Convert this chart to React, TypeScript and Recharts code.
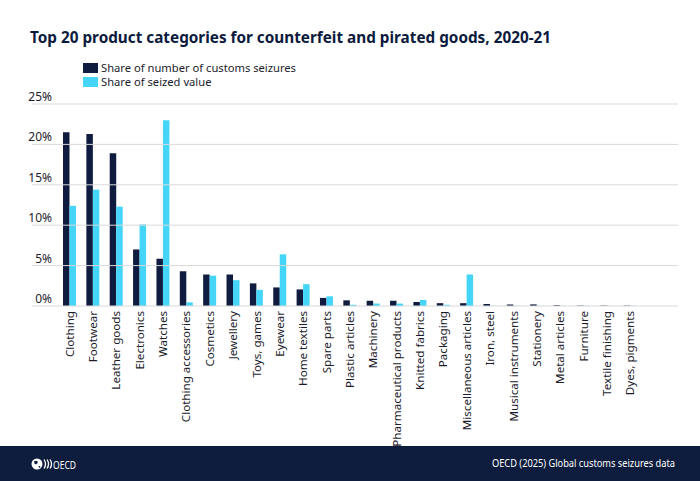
import React from "react";
import { BarChart, Bar, XAxis, YAxis } from "recharts";

const CATEGORIES = [
  "Clothing", "Footwear", "Leather goods", "Electronics", "Watches",
  "Clothing accessories", "Cosmetics", "Jewellery", "Toys, games", "Eyewear",
  "Home textiles", "Spare parts", "Plastic articles", "Machinery", "Pharmaceutical products",
  "Knitted fabrics", "Packaging", "Miscellaneous articles", "Iron, steel", "Musical instruments",
  "Stationery", "Metal articles", "Furniture", "Textile finishing", "Dyes, pigments",
];
const SEIZURE_SHARE = [21.5, 21.3, 18.9, 7.0, 5.85, 4.3, 3.9, 3.9, 2.8, 2.3, 2.05, 1.0, 0.7, 0.65, 0.65, 0.5, 0.35, 0.35, 0.25, 0.2, 0.2, 0.1, 0.05, 0.05, 0.05];
const VALUE_SHARE = [12.4, 14.4, 12.3, 10.1, 23.0, 0.45, 3.75, 3.2, 2.0, 6.4, 2.7, 1.2, 0.15, 0.3, 0.3, 0.75, 0.15, 3.9, 0.02, 0.02, 0.02, 0.02, 0.02, 0.02, 0.02];
const Y_TICKS = [0, 5, 10, 15, 20, 25];

const NAVY = "#0f1c3f";
const CYAN = "#45d5f8";
const FONT = "'Noto Sans', sans-serif";

const data = CATEGORIES.map((name, i) => ({
  name,
  seizures: SEIZURE_SHARE[i],
  value: VALUE_SHARE[i],
}));

function LeftTick({ x, y, payload }: any) {
  return (
    <g>
      <line x1={32} x2={678} y1={y} y2={y} stroke="#d9d9d9" strokeWidth={1} />
      <text x={x + 2} y={y - 3} textAnchor="end" fontSize={12} fill="#1c1c2c" fontFamily={FONT}>
        {payload.value}%
      </text>
    </g>
  );
}

function RightTick({ y, payload }: any) {
  return (
    <text x={675} y={y - 3} textAnchor="end" fontSize={12} fill="#1c1c2c" fontFamily={FONT}>
      {payload.value}%
    </text>
  );
}

function CategoryTick({ x, y, payload }: any) {
  const tx = x + 4;
  const ty = y - 3;
  return (
    <text
      x={tx}
      y={ty}
      transform={`rotate(-90 ${tx} ${ty})`}
      textAnchor="end"
      fontSize={11.6}
      fill="#1c1c2c"
      fontFamily={FONT}
    >
      {payload.value}
    </text>
  );
}

export default function App() {
  return (
    <div style={{ position: "fixed", left: 0, top: 0, width: 700, height: 481, background: "#fff", fontFamily: FONT, overflow: "hidden" }}>
      <div style={{ position: "absolute", left: 30, top: 27, fontSize: 15.3, fontWeight: 700, color: "#0b1a3d", whiteSpace: "nowrap" }}>
        Top 20 product categories for counterfeit and pirated goods, 2020-21
      </div>
      <div style={{ position: "absolute", left: 83, top: 61, fontSize: 11.2, color: "#1c1c2c", lineHeight: "14px", whiteSpace: "nowrap" }}>
        <div style={{ display: "flex", alignItems: "center" }}>
          <span style={{ display: "inline-block", width: 15, height: 10, background: NAVY, marginRight: 3 }} />
          Share of number of customs seizures
        </div>
        <div style={{ display: "flex", alignItems: "center" }}>
          <span style={{ display: "inline-block", width: 15, height: 10, background: CYAN, marginRight: 3 }} />
          Share of seized value
        </div>
      </div>
      <div style={{ position: "absolute", left: 0, top: 0 }}>
        <BarChart
          width={700}
          height={446}
          data={data}
          margin={{ top: 104, right: 22, bottom: 0, left: 32 }}
          barGap={0}
          barSize={6.5}
        >
          <XAxis
            dataKey="name"
            interval={0}
            height={140}
            tick={<CategoryTick />}
            tickLine={false}
            axisLine={false}
          />
          <YAxis
            yAxisId="left"
            orientation="left"
            width={26}
            domain={[0, 25]}
            ticks={Y_TICKS}
            tick={<LeftTick />}
            tickLine={false}
            axisLine={false}
          />
          <YAxis
            yAxisId="right"
            orientation="right"
            width={36}
            domain={[0, 25]}
            ticks={Y_TICKS}
            tick={<RightTick />}
            tickLine={false}
            axisLine={false}
          />
          <Bar yAxisId="left" dataKey="seizures" fill={NAVY} isAnimationActive={false} />
          <Bar yAxisId="left" dataKey="value" fill={CYAN} isAnimationActive={false} />
        </BarChart>
      </div>
      <div style={{ position: "absolute", left: 0, top: 446, width: 700, height: 35, background: "#0e1c3d" }}>
        <svg width={700} height={35} style={{ display: "block" }}>
          <circle cx={37} cy={18} r={5.5} fill="#fff" />
          <path d="M34 15.5 q2 -1.5 3.5 0 q1 1.5 -1 2.5 q-2 1 -2.5 -2.5z" fill="#0e1c3d" />
          <path d="M38.5 20 q1.5 -0.5 2 1 l-1.5 1z" fill="#0e1c3d" />
          {[44, 47, 50].map((ax) => (
            <path key={ax} d={`M${ax} 13.5 q3 4.5 0 9`} stroke="#fff" strokeWidth={1.3} fill="none" />
          ))}
          <text x={53} y={22.5} fontSize={11} fill="#fff" fontFamily={FONT} textLength={23} lengthAdjust="spacingAndGlyphs">
            OECD
          </text>
          <text x={675} y={21} textAnchor="end" fontSize={10.5} fill="#fff" fontFamily={FONT} textLength={183} lengthAdjust="spacingAndGlyphs">
            OECD (2025) Global customs seizures data
          </text>
        </svg>
      </div>
    </div>
  );
}
